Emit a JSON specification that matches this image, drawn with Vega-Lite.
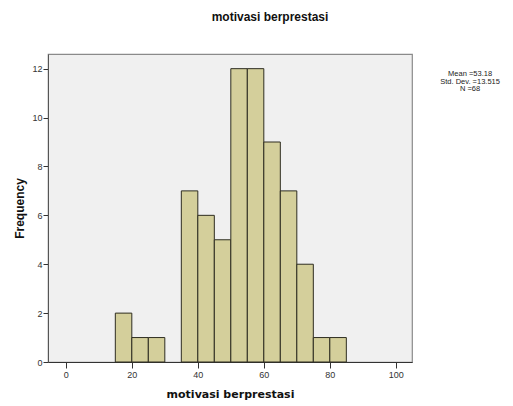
{
  "$schema": "https://vega.github.io/schema/vega-lite/v6.json",
  "width": 364,
  "height": 308,
  "autosize": "none",
  "padding": {"left": 48, "top": 54, "right": 101, "bottom": 44},
  "background": "#ffffff",
  "config": {
    "view": {"fill": "#f0f0f0", "stroke": "#8a8a8a", "strokeWidth": 1.2},
    "font": "Liberation Sans"
  },
  "title": {
    "text": "motivasi berprestasi",
    "font": "Liberation Sans",
    "fontSize": 12,
    "fontWeight": "bold",
    "color": "#111111",
    "anchor": "middle",
    "frame": "group",
    "dx": 40,
    "offset": 30
  },
  "datasets": {
    "bins": [
      {"bin_start": 15, "bin_end": 20, "count": 2},
      {"bin_start": 20, "bin_end": 25, "count": 1},
      {"bin_start": 25, "bin_end": 30, "count": 1},
      {"bin_start": 35, "bin_end": 40, "count": 7},
      {"bin_start": 40, "bin_end": 45, "count": 6},
      {"bin_start": 45, "bin_end": 50, "count": 5},
      {"bin_start": 50, "bin_end": 55, "count": 12},
      {"bin_start": 55, "bin_end": 60, "count": 12},
      {"bin_start": 60, "bin_end": 65, "count": 9},
      {"bin_start": 65, "bin_end": 70, "count": 7},
      {"bin_start": 70, "bin_end": 75, "count": 4},
      {"bin_start": 75, "bin_end": 80, "count": 1},
      {"bin_start": 80, "bin_end": 85, "count": 1}
    ],
    "stats": [
      {"x": 122.5, "y": 11.93, "label": ["Mean =53.18", "Std. Dev. =13.515", "N =68"]}
    ]
  },
  "layer": [
    {
      "data": {"name": "bins"},
      "mark": {"type": "bar", "fill": "#d4cf9b", "stroke": "#2e2d20", "strokeWidth": 1, "opacity": 1},
      "encoding": {
        "x": {
          "field": "bin_start",
          "type": "quantitative",
          "scale": {"domain": [-5.4, 104.9], "nice": false, "zero": false},
          "axis": {
            "values": [0, 20, 40, 60, 80, 100],
            "title": "motivasi berprestasi",
            "titleFont": "DejaVu Sans",
            "titleFontSize": 11,
            "titleFontWeight": "bold",
            "titleColor": "#111111",
            "titlePadding": 9,
            "labelFont": "Liberation Sans",
            "labelFontSize": 9,
            "labelColor": "#333333",
            "labelPadding": 2,
            "tickSize": 6,
            "tickColor": "#333333",
            "domainColor": "#333333",
            "grid": false
          }
        },
        "x2": {"field": "bin_end"},
        "y": {
          "field": "count",
          "type": "quantitative",
          "scale": {"domain": [0, 12.6], "nice": false},
          "axis": {
            "values": [0, 2, 4, 6, 8, 10, 12],
            "title": "Frequency",
            "titleFont": "Liberation Sans",
            "titleFontSize": 12,
            "titleFontWeight": "bold",
            "titleColor": "#111111",
            "titlePadding": 5,
            "labelFont": "Liberation Sans",
            "labelFontSize": 9,
            "labelColor": "#333333",
            "labelPadding": 1,
            "tickSize": 5,
            "tickColor": "#333333",
            "domainColor": "#555555",
            "grid": false
          }
        },
        "y2": {"datum": 0}
      }
    },
    {
      "data": {"name": "stats"},
      "mark": {"type": "text", "align": "center", "baseline": "top", "fontSize": 7.5, "lineHeight": 7.5, "font": "Liberation Sans", "color": "#222222"},
      "encoding": {
        "x": {"field": "x", "type": "quantitative"},
        "y": {"field": "y", "type": "quantitative"},
        "text": {"field": "label"}
      }
    }
  ]
}
